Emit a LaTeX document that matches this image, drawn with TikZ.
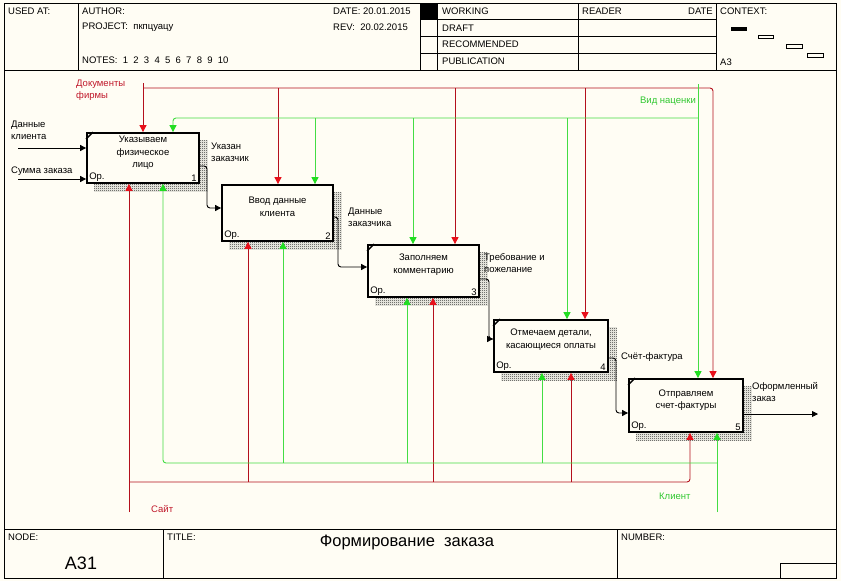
\documentclass[tikz,border=0pt]{standalone}
\usepackage{fontspec}
\setmainfont{Liberation Sans}
\usetikzlibrary{arrows.meta,patterns,backgrounds}
\definecolor{bgc}{HTML}{FFFDF4}
\definecolor{cRed}{HTML}{B4101C}
\definecolor{cRedHead}{HTML}{E8101A}
\definecolor{cGreen}{HTML}{44DD44}
\definecolor{cGreenHead}{HTML}{22DD22}
\definecolor{cRedText}{HTML}{C0182A}
\definecolor{cGreenText}{HTML}{30C830}
\pgfdeclarepatternformonly{finechecker}{\pgfpointorigin}{\pgfpoint{2pt}{2pt}}{\pgfpoint{2pt}{2pt}}{%
  \pgfpathrectangle{\pgfpointorigin}{\pgfpoint{1pt}{1pt}}%
  \pgfpathrectangle{\pgfpoint{1pt}{1pt}}{\pgfpoint{1pt}{1pt}}%
  \pgfusepath{fill}}
\begin{document}
\begin{tikzpicture}[x=1pt,y=-1pt,
  every node/.style={inner sep=0pt},
  txt/.style={font=\fontsize{9.5}{12}\selectfont, align=left},
  hdr/.style={font=\fontsize{9.5}{12}\selectfont, anchor=west},
  frame/.style={line width=1pt},
  procbox/.style={draw, line width=1.8pt, fill=bgc},
  boxtext/.style={align=center, font=\fontsize{9.5}{12.5}\selectfont},
  cornertxt/.style={font=\fontsize{9.5}{12}\selectfont},
  rarrow/.style={draw=cRed, line width=0.9pt, rounded corners=3pt, -{Triangle[length=7pt,width=7pt,color=cRedHead]}},
  garrow/.style={draw=cGreen, line width=0.9pt, rounded corners=3pt, -{Triangle[length=7pt,width=7pt,color=cGreenHead]}},
  barrow/.style={draw=black, line width=0.9pt, rounded corners=3pt, -{Triangle[length=6pt,width=6pt]}},
  cornermark/.style={line width=1.4pt}
]
\useasboundingbox (0,0) rectangle (841,581);
\begin{scope}[on background layer]
  \fill[bgc] (0,0) rectangle (841,581);
\end{scope}

% ---------- frame ----------
\draw[frame] (4,3) rectangle (836,578);
\draw[frame] (4,70) -- (836,70);
\draw[frame] (4,529) -- (836,529);
\draw[frame] (78,3) -- (78,70);
\draw[frame] (420,3) -- (420,70);
\draw[frame] (437,3) -- (437,70);
\draw[frame] (578,3) -- (578,70);
\draw[frame] (716,3) -- (716,70);
\draw[frame] (420,19) -- (716,19);
\draw[frame] (420,36) -- (716,36);
\draw[frame] (420,53) -- (716,53);
\fill (420,3) rectangle (437,19);
\fill (731,27) rectangle (747,31);
\draw (758,35) rectangle (773,38);
\draw (786,44) rectangle (802,48);
\draw (807,53) rectangle (823,57);
\draw[frame] (163,529) -- (163,578);
\draw[frame] (617,529) -- (617,578);
\draw (780,563) rectangle (836,578);

% ---------- header texts ----------
\node[hdr] (usedat) at (8,11) {USED AT:};
\node[hdr] (author) at (82,11) {AUTHOR:};
\node[hdr] (project) at (82,27) {PROJECT:\ \ пкпцуацу};
\node[hdr] (notes) at (82,60) {NOTES:\ \ 1\ \ 2\ \ 3\ \ 4\ \ 5\ \ 6\ \ 7\ \ 8\ \ 9\ \ 10};
\node[hdr] (date) at (333,11) {DATE: 20.01.2015};
\node[hdr] (rev) at (333,27) {REV:\ \ 20.02.2015};
\node[hdr] (working) at (442,11) {WORKING};
\node[hdr] (draft) at (442,28) {DRAFT};
\node[hdr] (recom) at (442,44) {RECOMMENDED};
\node[hdr] (publ) at (442,61) {PUBLICATION};
\node[hdr] (reader) at (582,11) {READER};
\node[hdr, anchor=east] (rdate) at (713,11) {DATE};
\node[hdr] (context) at (720,11) {CONTEXT:};
\node[hdr] (a3) at (720,62) {A3};

% ---------- footer texts ----------
\node[hdr] (nodelbl) at (8,537) {NODE:};
\node[hdr] (titlelbl) at (167,537) {TITLE:};
\node[hdr] (numlbl) at (621,537) {NUMBER:};
\node[font=\fontsize{16.5}{18}\selectfont] (title) at (407,542) {Формирование\ \ заказа};
\node[font=\fontsize{18}{20}\selectfont] (nodeid) at (81,563) {A31};

% ---------- process boxes ----------
\node[procbox, minimum width=112pt, minimum height=50pt] (b1) at (143,158) {};
\node[procbox, minimum width=111pt, minimum height=56pt] (b2) at (277.5,213) {};
\node[procbox, minimum width=111pt, minimum height=52pt] (b3) at (423.5,271) {};
\node[procbox, minimum width=114pt, minimum height=52pt] (b4) at (551,346) {};
\node[procbox, minimum width=114pt, minimum height=53pt] (b5) at (686,405.5) {};

\begin{scope}[on background layer]
  \foreach \b in {b1,b2,b3,b4,b5}
    \fill[pattern=finechecker, pattern color=black!85]
      ([shift={(8pt,-8pt)}]\b.north west) rectangle ([shift={(8pt,-8pt)}]\b.south east);
\end{scope}

\node[boxtext, yshift=5pt] (t1) at (b1.center) {Указываем\\физическое\\лицо};
\node[boxtext, yshift=6pt] (t2) at (b2.center) {Ввод данные\\клиента};
\node[boxtext, yshift=6.5pt] (t3) at (b3.center) {Заполняем\\комментарию};
\node[boxtext, yshift=6.5pt] (t4) at (b4.center) {Отмечаем детали,\\касающиеся оплаты};
\node[boxtext, yshift=5.5pt] (t5) at (b5.center) {Отправляем\\счет-фактуры};

\foreach \b/\n in {b1/1,b2/2,b3/3,b4/4,b5/5}{
  \node[cornertxt, anchor=south west] (op\n) at ([shift={(3pt,2.5pt)}]\b.south west) {Ор.};
  \node[cornertxt, anchor=south east] (num\n) at ([shift={(-3pt,2.5pt)}]\b.south east) {\n};
}
\foreach \b in {b1,b3,b4,b5}
  \draw[cornermark] ([yshift=-7pt]\b.north west) -- ([xshift=7pt]\b.north west);

% ---------- inputs ----------
\coordinate (in1) at (18,148);
\coordinate (in2) at (18,179);
\draw[barrow] (in1) -- (in1 -| b1.west);
\draw[barrow] (in2) -- (in2 -| b1.west);
\node[txt, anchor=west] (lin1) at (11,130) {Данные\\клиента};
\node[txt, anchor=west] (lin2) at (11,171) {Сумма заказа};

% ---------- outputs ----------
\draw[barrow] (b1.east |- 0,166) -- (207,166) -- (207,208) -- (b2.west |- 0,208);
\draw[barrow] (b2.east |- 0,217) -- (338,217) -- (338,267) -- (b3.west |- 0,267);
\draw[barrow] (b3.east |- 0,279) -- (489,279) -- (489,339) -- (b4.west |- 0,339);
\draw[barrow] (b4.east |- 0,358) -- (616,358) -- (616,413) -- (b5.west |- 0,413);
\coordinate (outend) at (818,414);
\draw[barrow] (b5.east |- outend) -- (outend);
\node[txt, anchor=west] (lo1) at (211,152) {Указан\\заказчик};
\node[txt, anchor=west] (lo2) at (348,217) {Данные\\заказчика};
\node[txt, anchor=west] (lo3) at (484,263) {Требование и\\пожелание};
\node[txt, anchor=west] (lo4) at (621,357) {Счёт-фактура};
\node[txt, anchor=west] (lo5) at (752,392) {Оформленный\\заказ};

% ---------- controls ----------
\coordinate (rsrc) at (143,83);
\draw[rarrow] (rsrc) -- (rsrc |- b1.north);
\draw[rarrow] (143,88) -- (713,88) -- (713,88 |- b5.north);
\draw[rarrow] (278,88) -- (278,88 |- b2.north);
\draw[rarrow] (455,88) -- (455,88 |- b3.north);
\draw[rarrow] (585,88) -- (585,88 |- b4.north);
\node[txt, anchor=west, text=cRedText] (lrc) at (76,90) {Документы\\фирмы};

\coordinate (gsrc) at (698,84);
\draw[garrow] (gsrc) -- (gsrc |- b5.north);
\draw[garrow] (698,118) -- (173,118) -- (173,118 |- b1.north);
\draw[garrow] (315,118) -- (315,118 |- b2.north);
\draw[garrow] (413,118) -- (413,118 |- b3.north);
\draw[garrow] (567,118) -- (567,118 |- b4.north);
\node[txt, anchor=east, text=cGreenText] (lgc) at (696,101) {Вид наценки};

% ---------- mechanisms ----------
\coordinate (rmsrc) at (129,512);
\draw[rarrow] (rmsrc) -- (rmsrc |- b1.south);
\draw[rarrow] (129,482) -- (690,482) -- (690,482 |- b5.south);
\draw[rarrow] (248,482) -- (248,482 |- b2.south);
\draw[rarrow] (433,482) -- (433,482 |- b3.south);
\draw[rarrow] (571,482) -- (571,482 |- b4.south);
\node[txt, anchor=west, text=cRedText] (lrm) at (151,509) {Сайт};

\coordinate (gmsrc) at (717,512);
\draw[garrow] (gmsrc) -- (gmsrc |- b5.south);
\draw[garrow] (717,463) -- (163,463) -- (163,463 |- b1.south);
\draw[garrow] (283,463) -- (283,463 |- b2.south);
\draw[garrow] (407,463) -- (407,463 |- b3.south);
\draw[garrow] (542,463) -- (542,463 |- b4.south);
\node[txt, anchor=west, text=cGreenText] (lgm) at (659,496) {Клиент};
\end{tikzpicture}
\end{document}
